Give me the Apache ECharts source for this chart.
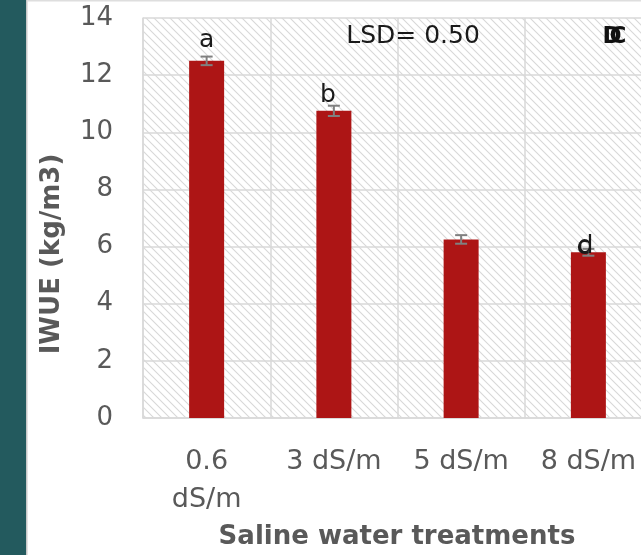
<!DOCTYPE html>
<html>
<head>
<meta charset="utf-8">
<script src="https://cdn.jsdelivr.net/npm/echarts@6/dist/echarts.min.js"></script>
<style>
  html, body { margin: 0; padding: 0; background: #ffffff; overflow: hidden; }
  #chart { width: 660px; height: 555px; }
</style>
</head>
<body>
<div id="chart"></div>
<script>
// Irrigation water use efficiency by saline water treatment
const categories = ['0.6\ndS/m', '3 dS/m', '5 dS/m', '8 dS/m'];
const iwue = [12.5, 10.75, 6.25, 5.8];
const iwueError = [0.15, 0.18, 0.15, 0.12];
const groupLetters = ['a', 'b', '', 'd'];
const overlapLetters = ['', '', '', 'c'];
const letterHeights = [13.2, 11.3, 0, 6.0];
const yTicks = [0, 2, 4, 6, 8, 10, 12, 14];
const lsdText = 'LSD= 0.50';

const FONT = '"DejaVu Sans", sans-serif';
const GREY_TEXT = '#595959';
const GRID_LINE = '#d9d9d9';

// diagonal hatch used behind the plot
function hatchPattern() {
  const c = document.createElement('canvas');
  c.width = 8; c.height = 8;
  const g = c.getContext('2d');
  g.fillStyle = '#ffffff';
  g.fillRect(0, 0, 8, 8);
  g.strokeStyle = '#d8d8d8';
  g.lineWidth = 1.1;
  g.beginPath();
  g.moveTo(-2, -2); g.lineTo(10, 10);
  g.moveTo(-2, 6); g.lineTo(2, 10);
  g.moveTo(6, -2); g.lineTo(10, 2);
  g.stroke();
  return c;
}

const chart = echarts.init(document.getElementById('chart'), null, { renderer: 'canvas' });

const errorData = iwue.map((v, i) => [i, v - iwueError[i], v + iwueError[i]]);
const letterData = letterHeights.map((h, i) => [i, h]);

chart.setOption({
  animation: false,
  backgroundColor: '#ffffff',
  grid: {
    left: 143, top: 18, width: 509, height: 400,
    outerBoundsMode: 'none',
    containLabel: false,
    show: true,
    backgroundColor: { image: hatchPattern(), repeat: 'repeat' },
    borderWidth: 0
  },
  graphic: [
    { type: 'rect', left: 0, top: 0, shape: { width: 26, height: 555 }, style: { fill: '#235a5e' }, z: 0 },
    { type: 'rect', left: 26, top: 0, shape: { width: 1.5, height: 555 }, style: { fill: '#c8c8c8' }, z: 0 },
    { type: 'rect', left: 27, top: 0, shape: { width: 640, height: 1.5 }, style: { fill: '#dedede' }, z: 0 },
    {
      type: 'text', x: 413, y: 36, z: 10,
      style: { text: lsdText, font: '25px ' + FONT, fill: '#1a1a1a', textAlign: 'center', textVerticalAlign: 'middle' }
    },
    {
      type: 'text', x: 612, y: 37, z: 10,
      style: { text: 'D', font: 'bold 23px ' + FONT, fill: '#111', textAlign: 'center', textVerticalAlign: 'middle' }
    },
    {
      type: 'text', x: 618, y: 37, z: 10,
      style: { text: 'C', font: 'bold 23px ' + FONT, fill: '#111', textAlign: 'center', textVerticalAlign: 'middle' }
    },
    {
      type: 'text', x: 52, y: 254, rotation: Math.PI / 2, z: 10,
      style: { text: 'IWUE (kg/m3)', font: 'bold 26px ' + FONT, fill: GREY_TEXT, textAlign: 'center', textVerticalAlign: 'middle' }
    },
    {
      type: 'text', x: 397, y: 537, z: 10,
      style: { text: 'Saline water treatments', font: 'bold 26px ' + FONT, fill: GREY_TEXT, textAlign: 'center', textVerticalAlign: 'middle' }
    }
  ],
  xAxis: {
    type: 'category',
    data: categories,
    boundaryGap: true,
    axisLine: { show: true, lineStyle: { color: GRID_LINE, width: 1.5 } },
    axisTick: { show: false },
    splitLine: { show: true, lineStyle: { color: GRID_LINE, width: 1.5 } },
    axisLabel: {
      color: GREY_TEXT, fontFamily: FONT, fontSize: 27, lineHeight: 38,
      margin: 25, interval: 0, hideOverlap: false
    }
  },
  yAxis: {
    type: 'value',
    min: 0, max: 14, interval: 2,
    axisLine: { show: true, lineStyle: { color: GRID_LINE, width: 1.5 } },
    axisTick: { show: false },
    splitLine: { show: true, lineStyle: { color: GRID_LINE, width: 1.5 } },
    axisLabel: {
      color: GREY_TEXT, fontFamily: FONT, fontSize: 26, margin: 30,
      formatter: v => (yTicks.indexOf(v) >= 0 ? String(v) : '')
    }
  },
  series: [
    {
      type: 'bar',
      data: iwue,
      barWidth: 35,
      itemStyle: { color: '#ad1515' },
      z: 2
    },
    {
      type: 'custom',
      data: errorData,
      z: 3,
      renderItem: function (params, api) {
        const x = api.value(0);
        const lo = api.coord([x, api.value(1)]);
        const hi = api.coord([x, api.value(2)]);
        const half = 6;
        const style = { stroke: '#808080', lineWidth: 2 };
        return {
          type: 'group',
          children: [
            { type: 'line', shape: { x1: lo[0], y1: lo[1], x2: hi[0], y2: hi[1] }, style: style },
            { type: 'line', shape: { x1: lo[0] - half, y1: lo[1], x2: lo[0] + half, y2: lo[1] }, style: style },
            { type: 'line', shape: { x1: hi[0] - half, y1: hi[1], x2: hi[0] + half, y2: hi[1] }, style: style }
          ]
        };
      }
    },
    {
      type: 'custom',
      data: letterData,
      z: 4,
      renderItem: function (params, api) {
        const i = params.dataIndex;
        const p = api.coord([api.value(0), api.value(1)]);
        const shift = i === 1 ? -6 : (i === 3 ? -3 : 0);
        const kids = [];
        if (groupLetters[i]) {
          kids.push({ type: 'text', x: p[0] + shift, y: p[1],
            style: { text: groupLetters[i], font: '500 25px ' + FONT, fill: '#1a1a1a', textAlign: 'center', textVerticalAlign: 'middle' } });
        }
        if (overlapLetters[i]) {
          kids.push({ type: 'text', x: p[0] + shift - 2, y: p[1] + 1,
            style: { text: overlapLetters[i], font: '500 25px ' + FONT, fill: '#1a1a1a', textAlign: 'center', textVerticalAlign: 'middle' } });
        }
        return { type: 'group', children: kids };
      }
    }
  ]
});
</script>
</body>
</html>
